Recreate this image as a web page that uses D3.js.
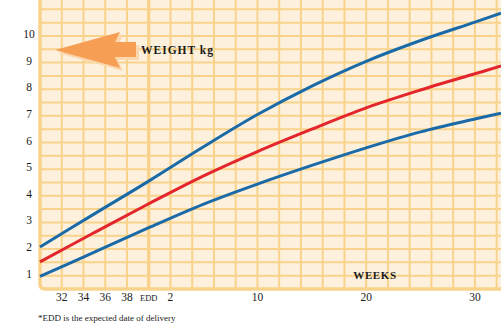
<!DOCTYPE html>
<html><head><meta charset="utf-8">
<script src="https://cdn.jsdelivr.net/npm/d3@7"></script>
<style>
html,body{margin:0;padding:0;background:#fff;}
svg{display:block;}
text{font-family:"Liberation Serif","DejaVu Serif",serif;fill:#1a1a1a;}
</style></head>
<body>
<svg id="chart" width="501" height="330"></svg>
<script>
// weeks relative to EDD (negative = gestational weeks before EDD)
const weeks      = [-10, -5, 0, 5, 10, 15, 20, 25, 30, 32.4];
const upperBlue  = [2.08, 3.32, 4.55, 5.83, 7.05, 8.12, 9.05, 9.83, 10.52, 10.86];
const middleRed  = [1.52, 2.62, 3.7, 4.74, 5.66, 6.5, 7.3, 7.97, 8.58, 8.87];
const lowerBlue  = [0.97, 1.88, 2.8, 3.68, 4.44, 5.14, 5.8, 6.4, 6.88, 7.1];
const xTickValues = [-8, -6, -4, -2, 0, 2, 10, 20, 30];
const xTickLabels = ["32", "34", "36", "38", "EDD", "2", "10", "20", "30"];
const yTickValues = [1, 2, 3, 4, 5, 6, 7, 8, 9, 10];

const svg = d3.select("#chart");
const x = d3.scaleLinear().domain([-10, 32.4]).range([40, 501]);
const y = d3.scaleLinear().domain([0.5, 11.35]).range([289, 0]);

const gridColor = "#f9d38b";
svg.append("path")
  .attr("d", `M${x(-10)},0 H501 V${y(0.5)} H${x(-10)+5} Q${x(-10)},${y(0.5)} ${x(-10)},${y(0.5)-5} Z`)
  .attr("fill", "#fdf0dc");

const hLines = d3.range(1, 11.51, 0.5);
svg.append("g").selectAll("line").data(hLines).join("line")
  .attr("x1", x(-10)).attr("x2", 501)
  .attr("y1", d => y(d)).attr("y2", d => y(d))
  .attr("stroke", gridColor).attr("stroke-width", 2);

const vLines = d3.range(-8, 33, 2).filter(d => d !== 0);
svg.append("g").selectAll("line").data(vLines).join("line")
  .attr("x1", d => x(d)).attr("x2", d => x(d))
  .attr("y1", 0).attr("y2", y(0.5))
  .attr("stroke", gridColor).attr("stroke-width", 2);

svg.append("line").attr("x1", x(0)).attr("x2", x(0)).attr("y1", 0).attr("y2", y(0.5))
  .attr("stroke", gridColor).attr("stroke-width", 3.5);
svg.append("path")
  .attr("d", `M${x(-10)},0 V${y(0.5)-5} Q${x(-10)},${y(0.5)} ${x(-10)+5},${y(0.5)} H501`)
  .attr("fill", "none").attr("stroke", gridColor).attr("stroke-width", 3.5);

const arrowPts = [[55,50],[120,32],[115,42],[136,42],[136,57],[115,57],[120,68]];
svg.append("polygon").attr("points", arrowPts.map(p => [p[0]+3, p[1]+3].join(",")).join(" "))
  .attr("fill", "#fbd7ad");
svg.append("polygon").attr("points", arrowPts.map(p => p.join(",")).join(" "))
  .attr("fill", "#f79e55");

svg.append("text").attr("x", 141).attr("y", 54)
  .attr("font-size", 11.5).attr("font-weight", "bold").attr("letter-spacing", 1)
  .text("WEIGHT kg");

const line = d3.line().x(d => x(d[0])).y(d => y(d[1])).curve(d3.curveCatmullRom.alpha(0.5));
const series = [
  {vals: lowerBlue, color: "#1b6aa8"},
  {vals: middleRed, color: "#e3262b"},
  {vals: upperBlue, color: "#1b6aa8"}
];
svg.append("g").selectAll("path").data(series).join("path")
  .attr("d", s => line(weeks.map((w, i) => [w, s.vals[i]])))
  .attr("fill", "none").attr("stroke", s => s.color).attr("stroke-width", 3);

svg.append("g").selectAll("text").data(yTickValues).join("text")
  .attr("x", 29).attr("y", d => y(d) + 2)
  .attr("text-anchor", "middle").attr("font-size", 11.5)
  .text(d => d);

svg.append("g").selectAll("text").data(xTickValues).join("text")
  .attr("x", d => x(d)).attr("y", 301)
  .attr("text-anchor", "middle")
  .attr("font-size", (d, i) => xTickLabels[i] === "EDD" ? 8.5 : 11.5)
  .text((d, i) => xTickLabels[i]);

svg.append("text").attr("x", 375).attr("y", 279)
  .attr("text-anchor", "middle").attr("font-size", 11).attr("font-weight", "bold")
  .attr("letter-spacing", 0.6).text("WEEKS");

svg.append("text").attr("x", 38).attr("y", 321)
  .attr("font-size", 9).text("*EDD is the expected date of delivery");
</script>
</body></html>
